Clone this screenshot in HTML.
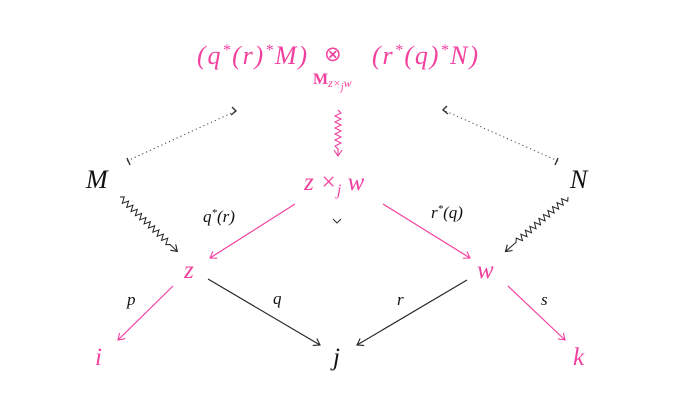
<!DOCTYPE html>
<html><head><meta charset="utf-8"><style>
html,body{margin:0;padding:0;background:#fff;}
svg{display:block;}
text{font-family:"Liberation Serif",serif;font-style:italic;}
.p{fill:#f2409e;}
.k{fill:#111;}
</style></head><body>
<svg width="680" height="413" viewBox="0 0 680 413" xmlns="http://www.w3.org/2000/svg">
<defs>
<path id="ah" d="M-6 -4 Q-1.5 -1 0 0 Q-1.5 1 -6 4" fill="none" stroke-width="1.1"/>
</defs>
<!-- top expression -->
<text x="197" y="64" font-size="26" class="p" textLength="110" lengthAdjust="spacing">(q<tspan font-size="16" dy="-9">*</tspan><tspan dy="9">(r)</tspan><tspan font-size="16" dy="-9">*</tspan><tspan dy="9">M)</tspan></text>
<text x="324" y="61" font-size="21" class="p" style="font-style:normal">⊗</text>
<text x="313" y="84" font-size="16" class="p" style="font-style:normal;font-weight:bold">M<tspan font-size="12" font-style="italic" font-weight="normal" dy="3">z×</tspan><tspan font-size="10" font-style="italic" font-weight="normal" dy="3">j</tspan><tspan font-size="12" font-style="italic" font-weight="normal" dy="-3">w</tspan></text>
<text x="372" y="64" font-size="26" class="p" textLength="106" lengthAdjust="spacing">(r<tspan font-size="16" dy="-9">*</tspan><tspan dy="9">(q)</tspan><tspan font-size="16" dy="-9">*</tspan><tspan dy="9">N)</tspan></text>

<!-- dotted lines -->
<line x1="127" y1="161" x2="236" y2="111" stroke="#444" stroke-width="1" stroke-dasharray="1.2,3"/>
<path d="M232 107 L236 111 L231 115" stroke="#333" stroke-width="1.4" fill="none"/>
<line x1="127" y1="158" x2="130" y2="165" stroke="#333" stroke-width="1.4"/>
<line x1="558" y1="161" x2="443" y2="110" stroke="#444" stroke-width="1" stroke-dasharray="1.2,3"/>
<path d="M447 106 L443 110 L448 114" stroke="#333" stroke-width="1.4" fill="none"/>
<line x1="558" y1="158" x2="555" y2="165" stroke="#333" stroke-width="1.4"/>

<!-- vertical squiggle -->
<g transform="translate(338,110) rotate(90)" stroke="#f2409e" fill="none" stroke-width="1.1">
<path d="M0 0 l3 -3 l3 6 l3 -6 l3 6 l3 -6 l3 6 l3 -6 l3 6 l3 -6 l3 6 l3 -6 l3 6 l3 -3 L46 0"/>
<use href="#ah" x="46" y="0"/>
</g>
<text x="304" y="190" font-size="25" class="p">z ×<tspan font-size="16" dy="5">j</tspan><tspan dy="-5"> w</tspan></text>
<path d="M333 219 l4 4 l4 -4" stroke="#333" fill="none" stroke-width="1.1"/>

<text x="86" y="188" font-size="26" class="k">M</text>
<text x="570" y="188" font-size="26" class="k">N</text>
<text x="184" y="278" font-size="25" class="p">z</text>
<text x="477" y="278" font-size="25" class="p">w</text>
<text x="95" y="365" font-size="25" class="p">i</text>
<text x="333" y="365" font-size="25" class="k">j</text>
<text x="573" y="365" font-size="25" class="p">k</text>

<!-- M squiggle -->
<g transform="translate(120,197) rotate(43.5)" stroke="#222" fill="none" stroke-width="1">
<path d="M0 0 l3 -3 l3 6 l3 -6 l3 6 l3 -6 l3 6 l3 -6 l3 6 l3 -6 l3 6 l3 -6 l3 6 l3 -6 l3 6 l3 -6 l3 6 l3 -6 l3 6 l3 -6 l3 6 l3 -6 l3 6 l3 -3 L79 0"/>
<use href="#ah" x="79" y="0"/>
</g>
<!-- N squiggle -->
<g transform="translate(568,197) rotate(138.9)" stroke="#222" fill="none" stroke-width="1">
<path d="M0 0 l3 -3 l3 6 l3 -6 l3 6 l3 -6 l3 6 l3 -6 l3 6 l3 -6 l3 6 l3 -6 l3 6 l3 -6 l3 6 l3 -6 l3 6 l3 -6 l3 6 l3 -6 l3 6 l3 -6 l3 6 l3 -3 L83 0"/>
<use href="#ah" x="83" y="0"/>
</g>

<!-- straight arrows -->
<g stroke="#f2409e" fill="none" stroke-width="1.2">
<line x1="295" y1="204" x2="210" y2="258"/>
<use href="#ah" transform="translate(210,258) rotate(147.6)"/>
<line x1="383" y1="204" x2="470" y2="258"/>
<use href="#ah" transform="translate(470,258) rotate(31.8)"/>
<line x1="173" y1="286" x2="118" y2="340"/>
<use href="#ah" transform="translate(118,340) rotate(135.5)"/>
<line x1="508" y1="286" x2="565" y2="340"/>
<use href="#ah" transform="translate(565,340) rotate(43.5)"/>
</g>
<g stroke="#222" fill="none" stroke-width="1.1">
<line x1="208" y1="279" x2="320" y2="345"/>
<use href="#ah" transform="translate(320,345) rotate(30.5)"/>
<line x1="467" y1="280" x2="357" y2="345"/>
<use href="#ah" transform="translate(357,345) rotate(149.4)"/>
</g>

<text x="203" y="222" font-size="17" class="k">q<tspan font-size="11" dy="-6">*</tspan><tspan dy="6">(r)</tspan></text>
<text x="431" y="218" font-size="17" class="k">r<tspan font-size="11" dy="-6">*</tspan><tspan dy="6">(q)</tspan></text>
<text x="127" y="305" font-size="17" class="k">p</text>
<text x="273" y="304" font-size="17" class="k">q</text>
<text x="397" y="305" font-size="17" class="k">r</text>
<text x="541" y="305" font-size="17" class="k">s</text>
</svg>
</body></html>
